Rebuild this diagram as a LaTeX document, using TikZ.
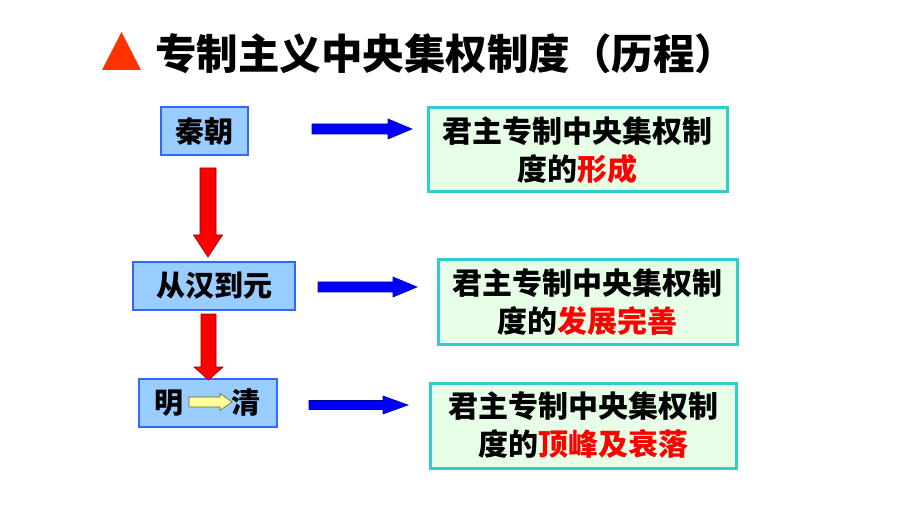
\documentclass[tikz,border=0pt]{standalone}
\usepackage{fontspec}
\newfontfamily\cjk{Noto Sans CJK SC}
\definecolor{lblue}{HTML}{3366FF}
\definecolor{lfill}{HTML}{99CCFF}
\definecolor{teal2}{HTML}{33CCCC}
\definecolor{gfill}{HTML}{E6FFE6}
\definecolor{ablue}{HTML}{0000FF}
\definecolor{yfill}{HTML}{FFFF99}
\definecolor{tri}{HTML}{FF3300}
\newcommand\harrowshape[7][]{%
  \draw[#1] ({#2},{#5-#6}) -- ({#3},{#5-#6}) -- ({#3},{#5-#7}) -- ({#4},{#5})
    -- ({#3},{#5+#7}) -- ({#3},{#5+#6}) -- ({#2},{#5+#6}) -- cycle;}
\newcommand\varrowshape[7][]{%
  \draw[#1] ({#5-#6},{#2}) -- ({#5-#6},{#3}) -- ({#5-#7},{#3}) -- ({#5},{#4})
    -- ({#5+#7},{#3}) -- ({#5+#6},{#3}) -- ({#5+#6},{#2}) -- cycle;}
\begin{document}
\begin{tikzpicture}[x=1pt,y=-1pt,
  lbox/.style={draw=lblue, fill=lfill, line width=2.5pt, inner sep=0pt,
    font=\cjk\bfseries\fontsize{29}{34}\selectfont},
  rbox/.style={draw=teal2, fill=gfill, line width=3pt, inner sep=0pt, align=center,
    font=\cjk\bfseries\fontsize{30}{38}\selectfont},
  barrow/.style={fill=ablue, draw=ablue!60!black, line width=0.6pt},
  rarrow/.style={fill=red, draw=red!55!black, line width=0.6pt},
  yarrow/.style={fill=yfill, draw=olive!70!black, line width=0.6pt},
  plain/.style={inner sep=0pt, font=\cjk\bfseries\fontsize{29}{34}\selectfont}]
\useasboundingbox[fill=white] (0,0) rectangle (920,518);
% title
\fill[tri] (102,70) -- (121.5,32) -- (141,70) -- cycle;
\node[anchor=west, inner sep=0pt, font=\cjk\bfseries\fontsize{41.5}{48}\selectfont] (title) at (155,54) {专制主义中央集权制度（历程）};
% left boxes
\node[lbox, minimum width=87pt, minimum height=48pt] (qin) at (204.5,131) {秦朝};
\node[lbox, minimum width=162pt, minimum height=48pt] (han) at (214,286) {从汉到元};
\node[lbox, minimum width=138pt, minimum height=48pt] (mq) at (208,403) {};
\node[plain] (ming) at (169,403) {明};
\node[plain] (qing) at (246,403) {清};
% right boxes
\node[rbox, minimum width=299pt, minimum height=84pt] (r1) at (577.5,150)
  {君主专制中央集权制\\度的\textcolor{red}{形成}};
\node[rbox, minimum width=299pt, minimum height=84pt] (r2) at (587.5,302)
  {君主专制中央集权制\\度的\textcolor{red}{发展完善}};
\node[rbox, minimum width=306pt, minimum height=85pt] (r3) at (583,425.5)
  {君主专制中央集权制\\度的\textcolor{red}{顶峰及衰落}};
% blue arrows
\harrowshape[barrow]{312}{388}{412}{129}{5}{10}
\harrowshape[barrow]{318}{393}{417}{287}{5}{10}
\harrowshape[barrow]{309}{383}{408}{405}{4.5}{9}
% red arrows
\varrowshape[rarrow]{168}{235}{257}{208}{8}{14.5}
\varrowshape[rarrow]{314}{367}{380}{208.5}{7.5}{14.5}
% yellow arrow
\harrowshape[yarrow]{189}{220}{232}{402}{5}{8.5}
\end{tikzpicture}
\end{document}
